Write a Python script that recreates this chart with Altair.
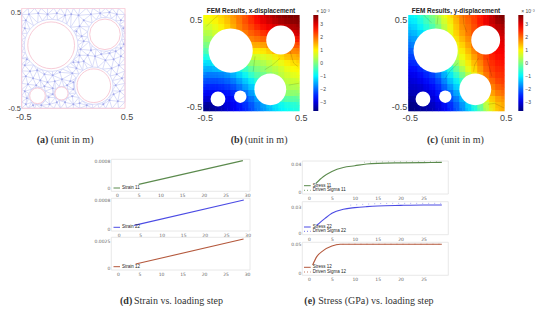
import math
import altair as alt
import pandas as pd

# ---------- data ----------
CIRCLES = [(-0.215, 0.13, 0.26), (0.306, 0.24, 0.17), (0.198, -0.274, 0.187),
           (-0.347, -0.375, 0.087), (-0.115, -0.351, 0.073)]

MESH_NODES = [(-.43,.44),(-.34,.45),(-.25,.44),(-.16,.45),(-.08,.43),(-.02,.44),(.05,.43),(.1,.38),(.17,.44),(.26,.45),
 (.35,.46),(.42,.44),(.46,.38),(-.46,.38),(-.47,.3),(-.46,.23),(-.485,.15),(-.48,.07),(-.45,-.01),(-.47,-.07),
 (.06,.32),(.03,.27),(.08,.22),(.05,.15),(.07,.09),(.1,.17),(.17,.08),(.14,.03),(.06,.03),(.0,-.04),(.05,-.04),
 (.485,.3),(.48,.22),(.49,.14),(.46,.1),(.41,.07),(.35,.05),(.27,.04),(.21,.02),(.1,-.03),(.31,-.02),(.39,-.01),
 (.46,.02),(.44,-.07),(.37,-.1),(.36,-.16),(.42,-.16),(.47,-.2),(.41,-.27),(.45,-.33),(.39,-.36),(.43,-.43),(.35,-.42),
 (.29,-.46),(.21,-.47),(.13,-.47),(.06,-.45),(.0,-.46),(.03,-.38),(-.01,-.38),(.0,-.31),(.0,-.24),(-.03,-.23),(-.01,-.15),
 (.03,-.1),(-.07,-.1),(-.13,-.14),(-.2,-.17),(-.28,-.16),(-.35,-.12),(-.42,-.13),(-.46,-.18),(-.39,-.2),(-.32,-.22),
 (-.25,-.24),(-.18,-.23),(-.11,-.21),(-.06,-.27),(-.13,-.27),(-.2,-.3),(-.28,-.28),(-.36,-.27),(-.44,-.26),(-.47,-.33),
 (-.45,-.4),(-.46,-.46),(-.39,-.47),(-.31,-.47),(-.23,-.46),(-.24,-.39),(-.2,-.36),(-.16,-.44),(-.08,-.44),(-.05,-.39)]

FIELD_X = [
 [.9,1.0,1.1,1.3,1.5,1.8,2.0,2.3,2.6,2.9,3.1,3.3,3.5,3.6,3.7,3.7],
 [.7,.8,1.0,1.2,1.4,1.7,2.0,2.3,2.5,2.8,3.0,3.1,3.3,3.4,3.5,3.6],
 [.5,.6,.8,1,1.3,1.6,1.9,2.1,2.3,2.5,2.7,2.8,3.0,3.1,3.2,3.3],
 [.3,.4,.6,.8,1.1,1.4,1.7,1.9,2.1,2.2,2.4,2.5,2.7,2.8,2.9,3.0],
 [.1,.2,.4,.6,.9,1.2,1.5,1.7,1.8,1.9,2.0,2.2,2.4,2.5,2.5,2.5],
 [-.2,0,.2,.4,.7,1,1.3,1.4,1.4,1.4,1.5,1.8,2.0,2.1,2.1,2.0],
 [-.5,-.3,0,.2,.5,.8,1,1.0,.9,.9,1.0,1.2,1.4,1.6,1.7,1.7],
 [-.9,-.7,-.5,-.3,0,.3,.5,.4,.4,.5,.6,.7,.9,1.1,1.3,1.4],
 [-1.3,-1.2,-1.0,-.9,-.7,-.5,-.3,-.1,.1,.2,.3,.5,.6,.8,1.0,1.1],
 [-1.6,-1.6,-1.5,-1.5,-1.3,-1.1,-.8,-.5,-.2,0,.1,.3,.4,.6,.8,.9],
 [-2.0,-2.0,-2.0,-1.9,-1.8,-1.5,-1.2,-.9,-.5,-.3,-.1,.1,.3,.5,.6,.7],
 [-2.3,-2.3,-2.3,-2.2,-2.1,-1.9,-1.6,-1.3,-1.0,-.6,-.3,-.1,.1,.3,.5,.5],
 [-2.6,-2.6,-2.6,-2.5,-2.4,-2.2,-1.9,-1.6,-1.3,-.9,-.6,-.3,0,.2,.3,.3],
 [-2.9,-2.9,-2.9,-2.8,-2.7,-2.5,-2.2,-1.9,-1.6,-1.2,-.9,-.6,-.3,0,.1,0],
 [-3.2,-3.2,-3.2,-3.0,-2.9,-2.7,-2.4,-2.2,-1.9,-1.6,-1.3,-1,-.7,-.5,-.4,-.4],
 [-3.6,-3.6,-3.4,-3.2,-3.0,-2.8,-2.6,-2.4,-2.1,-1.8,-1.6,-1.3,-1.1,-.9,-.8,-.7],
]
FIELD_Y = [
 [-1.0,-.8,-.5,-.2,.1,.5,.9,1.3,1.7,2.0,2.2,2.4,2.7,3.0,3.4,3.7],
 [-1.2,-1.0,-.7,-.4,-.1,.3,.7,1.1,1.6,1.9,2.1,2.4,2.7,3.0,3.3,3.5],
 [-1.4,-1.2,-.9,-.6,-.3,.1,.6,1.0,1.5,1.8,2.0,2.3,2.6,2.9,3.1,3.3],
 [-1.6,-1.4,-1.2,-.9,-.5,-.1,.4,.9,1.4,1.7,2.0,2.3,2.6,2.8,3.0,3.1],
 [-1.8,-1.6,-1.4,-1.1,-.8,-.3,.2,.8,1.2,1.5,1.8,2.2,2.5,2.7,2.9,3.0],
 [-2.0,-1.8,-1.6,-1.3,-1,-.5,0,.6,1.0,1.3,1.7,2.1,2.4,2.6,2.8,2.9],
 [-2.2,-2.1,-1.9,-1.6,-1.2,-.8,-.2,.4,.8,1.1,1.5,1.9,2.2,2.5,2.7,2.8],
 [-2.4,-2.3,-2.1,-1.8,-1.5,-1,-.5,.1,.6,.9,1.3,1.7,2.1,2.4,2.6,2.7],
 [-2.6,-2.5,-2.3,-2.1,-1.8,-1.3,-.8,-.3,.3,.7,1.1,1.5,1.9,2.3,2.5,2.6],
 [-2.8,-2.7,-2.5,-2.3,-2.0,-1.6,-1.1,-.6,-.1,.4,.9,1.3,1.8,2.2,2.4,2.5],
 [-3.0,-2.9,-2.7,-2.5,-2.3,-1.9,-1.4,-1,-.5,0,.5,1.1,1.6,2.0,2.3,2.4],
 [-3.1,-3.0,-2.9,-2.7,-2.5,-2.2,-1.7,-1.3,-.9,-.4,.1,.8,1.4,1.8,2.1,2.3],
 [-3.2,-3.2,-3.1,-2.9,-2.7,-2.4,-2.0,-1.6,-1.2,-.8,-.2,.5,1.2,1.6,1.9,2.1],
 [-3.4,-3.3,-3.2,-3.1,-2.9,-2.6,-2.3,-1.9,-1.5,-1.1,-.6,.1,.8,1.3,1.7,1.9],
 [-3.6,-3.5,-3.4,-3.2,-3.0,-2.8,-2.5,-2.2,-1.8,-1.3,-.9,-.4,.3,.9,1.4,1.6],
 [-3.7,-3.6,-3.5,-3.4,-3.2,-3.0,-2.7,-2.4,-2.0,-1.6,-1.1,-.6,0,.6,1.2,1.5],
]
CONTOURS_X = [
 [(-.34,.5),(-.4,.45),(-.47,.38)],
 [(.14,-.07),(.22,-.02),(.3,.05)],
 [(.4,.14),(.44,0),(.49,-.04)],
 [(.39,-.23),(.5,-.21)],
 [(.04,.07),(.03,0),(.02,-.09)],
]
CONTOURS_Y = [
 [(-.34,.5),(-.26,.42)],
 [(-.19,.49),(-.2,.4)],
 [(.07,.5),(.08,.4),(.11,.32)],
 [(.23,.05),(.19,-.02),(.18,-.09)],
 [(.32,.05),(.37,-.14)],
 [(.02,0),(-.07,-.09),(-.12,-.17)],
 [(.33,-.43),(.4,-.42),(.5,-.47)],
]
JET = ["#00007f","#0000ff","#007fff","#00ffff","#7fff7f","#ffff00","#ff7f00","#ff0000","#7f0000"]

STRAIN_STEPS = [[5, 29], [3.6, 29.1], [4.1, 29.2]]
STRAIN_VALUES = [[.000127, .00082], [.000102, .00081], [.00038, .00275]]
STRESS_STEPS = [
 [1.5, 3.1, 5, 7.5, 10, 12.6, 15, 20, 25, 29],
 [1.7, 3.5, 5, 7.5, 10, 12.6, 15, 20, 25, 29],
 [.8, 1.7, 3.1, 5, 6.8, 10, 15, 20, 25, 29],
]
STRESS_VALUES = [
 [.0127, .0224, .0302, .036, .0385, .041, .042, .0427, .043, .0434],
 [.009, .0171, .023, .0277, .0296, .0308, .0316, .0323, .0327, .0327],
 [.0144, .0287, .0391, .0471, .05, .05, .05, .05, .05, .05],
]
DRIVEN_STEPS = [[12, 15, 18, 21, 24, 27, 29], [9, 12, 15, 18, 21, 24, 27, 29], [6, 9, 12, 15, 18, 21, 24, 27, 29]]
DRIVEN_VALUES = [
 [.0435, .0440, .0443, .0443, .0444, .0444, .0444],
 [.0325, .0335, .0344, .0346, .0346, .0346, .0346, .0346],
 [.0497, .0503, .0503, .0503, .0503, .0503, .0503, .0503, .0503],
]

W, H = 530, 298
SANS = "Liberation Sans"
SERIF = "Liberation Serif"


def one():
    return alt.Data(values=[{"a": 1}])


def text(s, px, py, size, color="#222222", font=SANS, align="center", weight="normal", opacity=1.0):
    return alt.Chart(one()).mark_text(text=s, font=font, fontSize=size, color=color, align=align,
                                      baseline="middle", fontWeight=weight, opacity=opacity).encode(
        x=alt.value(px - 8), y=alt.value(py - 8))


def rule(x0, x1, py, color, width=1.0, dash=None):
    kw = {"strokeDash": dash} if dash else {}
    return alt.Chart(one()).mark_rule(color=color, strokeWidth=width, **kw).encode(
        x=alt.value(x0 - 8), x2=alt.value(x1 - 8), y=alt.value(py - 8))


def scales(L, R, T, B):
    return (alt.Scale(domain=[-.5, .5], range=[L - 8, R - 8], nice=False, zero=False),
            alt.Scale(domain=[-.5, .5], range=[B - 8, T - 8], nice=False, zero=False))


def unit_axes(L, B, mesh=False):
    base = dict(values=[-.5, .5], domain=False, ticks=False, grid=False, title=None, labelFont=SANS,
                labelColor="#444444", labelExpr="datum.value", labelOverlap=False, zindex=1)
    xa = alt.Axis(orient="bottom", offset=-(H - (B - 8)), labelPadding=4.5 if mesh else 2.5, labelFontSize=9,
                  labelFlush=False, labelOffset=1.5, **base)
    if mesh:
        # the page margin leaves little room left of this panel, so its labels are a little smaller
        ya = alt.Axis(orient="left", offset=-(L - 8), labelPadding=1.2, labelFontSize=7.4,
                      labelBaseline={"condition": {"test": "datum.value > 0", "value": "top"}, "value": "middle"},
                      **base)
    else:
        ya = alt.Axis(orient="left", offset=-(L - 8), labelPadding=1.5, labelFontSize=9,
                      labelFlush=True, **base)
    return xa, ya


# ---------- panel (a): mesh ----------
def delaunay(pts):
    sup = [(-10, -10), (10, -10), (0, 10)]
    P = list(pts) + sup
    n = len(pts)
    tris = [(n, n + 1, n + 2)]

    def cc(t):
        (ax, ay), (bx, by), (cx, cy) = P[t[0]], P[t[1]], P[t[2]]
        d = 2 * (ax * (by - cy) + bx * (cy - ay) + cx * (ay - by))
        if abs(d) < 1e-12:
            return 0, 0, 1e12
        ux = ((ax**2 + ay**2) * (by - cy) + (bx**2 + by**2) * (cy - ay) + (cx**2 + cy**2) * (ay - by)) / d
        uy = ((ax**2 + ay**2) * (cx - bx) + (bx**2 + by**2) * (ax - cx) + (cx**2 + cy**2) * (bx - ax)) / d
        return ux, uy, (ax - ux)**2 + (ay - uy)**2

    for i in range(n):
        px, py = P[i]
        bad, keep = [], []
        for t in tris:
            ux, uy, r2 = cc(t)
            (bad if (px - ux)**2 + (py - uy)**2 < r2 else keep).append(t)
        count = {}
        for t in bad:
            for e in ((t[0], t[1]), (t[1], t[2]), (t[2], t[0])):
                k = tuple(sorted(e))
                count[k] = count.get(k, 0) + 1
        tris = keep + [(a, b, i) for (a, b), c in count.items() if c == 1]
    return [t for t in tris if max(t) < n]


def in_circle(x, y, pad=0.0):
    return any((x - cx)**2 + (y - cy)**2 < (r + pad)**2 for cx, cy, r in CIRCLES)


interior = [p for p in MESH_NODES if not in_circle(p[0], p[1], 0.012)]
nodes = list(interior)
STEP = 0.062
m = round(1 / STEP)
for i in range(m):
    s = -.5 + i / m
    nodes += [(s, -.5), (.5, -s), (-s, .5), (-.5, s)]
for cx, cy, r in CIRCLES:
    k = max(10, round(2 * math.pi * r / 0.05))
    nodes += [(cx + r * math.cos(2 * math.pi * j / k), cy + r * math.sin(2 * math.pi * j / k)) for j in range(k)]

edges = set()
for t in delaunay(nodes):
    gx = sum(nodes[i][0] for i in t) / 3
    gy = sum(nodes[i][1] for i in t) / 3
    if in_circle(gx, gy):
        continue
    for a, b in ((t[0], t[1]), (t[1], t[2]), (t[0], t[2])):
        edges.add(tuple(sorted((a, b))))
edge_df = pd.DataFrame([{"x": nodes[a][0], "y": nodes[a][1], "x2": nodes[b][0], "y2": nodes[b][1]} for a, b in edges])
node_df = pd.DataFrame(interior, columns=["x", "y"])
circ_df = pd.DataFrame(CIRCLES, columns=["x", "y", "r"])
A = (21.7, 125, 8.3, 108.3)
xs, ys = scales(*A)
xa, ya = unit_axes(21.7, 108.3, mesh=True)
circ_df["s"] = [math.pi * (r * 101.5)**2 for r in circ_df["r"]]
PINK = "#f8ccd8"
panel_a = alt.layer(
    alt.Chart(edge_df).mark_rule(color="#ccd0f6", strokeWidth=0.7).encode(
        x=alt.X("x:Q", scale=xs, axis=xa), y=alt.Y("y:Q", scale=ys, axis=ya), x2="x2:Q", y2="y2:Q"),
    alt.Chart(node_df).mark_circle(color="#a3a9ea", size=4, opacity=1).encode(
        x=alt.X("x:Q", scale=xs, axis=xa), y=alt.Y("y:Q", scale=ys, axis=ya)),
    alt.Chart(circ_df).mark_point(filled=False, color=PINK, strokeWidth=1, opacity=1).encode(
        x=alt.X("x:Q", scale=xs, axis=xa), y=alt.Y("y:Q", scale=ys, axis=ya),
        size=alt.Size("s:Q", scale=None, legend=None)),
    alt.Chart(one()).mark_rect(fill=None, stroke=PINK, strokeWidth=1).encode(
        x=alt.value(21.7 - 8), x2=alt.value(125 - 8), y=alt.value(8.3 - 8), y2=alt.value(108.3 - 8)),
)


# ---------- panels (b), (c): displacement fields ----------
def field_panel(rows, contours, L, T, cb_x):
    R, B = L + 96, T + 96
    xs, ys = scales(L, R, T, B)
    xa, ya = unit_axes(L, B)
    n = len(rows)
    recs, soft = [], []
    clamp = lambda v: max(-.5, min(.5, v))
    for j, row in enumerate(rows):
        for i, v in enumerate(row):
            recs.append({"x": -.5 + i / n, "x2": -.5 + (i + 1) / n + .003,
                         "y": .5 - j / n, "y2": .5 - (j + 1) / n - .003, "v": v})
            # the same cell drawn wider and translucent softens the block edges
            soft.append({"x": clamp(-.5 + (i - .5) / n), "x2": clamp(-.5 + (i + 1.5) / n),
                         "y": clamp(.5 - (j - .5) / n), "y2": clamp(.5 - (j + 1.5) / n), "v": v})
    cscale = alt.Scale(domain=[-3.7, 3.7], range=JET, interpolate="rgb", nice=False, zero=False)
    color = alt.Color("v:Q", scale=cscale,
                      legend=alt.Legend(orient="none", legendX=cb_x - 8, legendY=T - 8, title=None,
                                        direction="vertical", gradientLength=96, gradientThickness=5,
                                        gradientOpacity=1,
                                        values=[-3, -2, -1, 0, 1, 2, 3], labelFont=SANS, labelFontSize=5,
                                        labelColor="#444444", labelOffset=2, padding=0, tickCount=7))
    cdf = pd.DataFrame(CIRCLES, columns=["x", "y", "r"])
    cdf["s"] = [math.pi * (r * 96)**2 for r in cdf["r"]]
    lines = pd.DataFrame([{"id": k, "o": o, "x": p[0], "y": p[1]}
                          for k, line in enumerate(contours) for o, p in enumerate(line)])
    return alt.layer(
        alt.Chart(pd.DataFrame(recs)).mark_rect(strokeWidth=0).encode(
            x=alt.X("x:Q", scale=xs, axis=xa), x2="x2:Q", y=alt.Y("y:Q", scale=ys, axis=ya), y2="y2:Q", color=color),
        alt.Chart(pd.DataFrame(soft)).mark_rect(strokeWidth=0, opacity=.42).encode(
            x=alt.X("x:Q", scale=xs, axis=xa), x2="x2:Q", y=alt.Y("y:Q", scale=ys, axis=ya), y2="y2:Q",
            color=color),
        alt.Chart(lines).mark_line(color="#000000", strokeWidth=0.5, opacity=.25).encode(
            x=alt.X("x:Q", scale=xs, axis=xa), y=alt.Y("y:Q", scale=ys, axis=ya),
            detail="id:N", order="o:Q"),
        alt.Chart(cdf).mark_point(filled=True, color="white", opacity=1, strokeWidth=0).encode(
            x=alt.X("x:Q", scale=xs, axis=xa), y=alt.Y("y:Q", scale=ys, axis=ya),
            size=alt.Size("s:Q", scale=None, legend=None)),
    )


panel_b = field_panel(FIELD_X, CONTOURS_X, 203.3, 15, 313.3)
panel_c = field_panel(FIELD_Y, CONTOURS_Y, 408.3, 15, 518.3)


# ---------- panels (d), (e): curves ----------
def line_panel(frame, x0px, x5px, y0px, ytop, ytop_px, steps, vals, color, driven=None, xticks=None, interp="linear"):
    L, R, T, B = frame
    px5 = x5px - x0px
    xs = alt.Scale(domain=[0, 30], range=[x0px - 8, x0px + px5 * 6 - 8], nice=False, zero=False)
    ys = alt.Scale(domain=[0, ytop], range=[y0px - 8, ytop_px - 8], nice=False, zero=False)
    xa = alt.Axis(orient="bottom", values=xticks, offset=-(H - (B - 8)), domain=False, ticks=False, grid=False, title=None,
                  labelFont="DejaVu Sans", labelFontSize=4.5, labelColor="#666666", labelPadding=1.5,
                  labelOverlap=False, labelFlush=False, labelExpr="datum.value")
    ya = alt.Axis(orient="left", values=[0, ytop], offset=-(L - 8), domain=False, ticks=False, grid=False, title=None,
                  labelFont="DejaVu Sans", labelFontSize=4.5, labelColor="#666666", labelPadding=1.5,
                  labelOverlap=False, labelExpr="datum.value")
    df = pd.DataFrame({"x": steps, "y": vals})
    layers = [
        alt.Chart(one()).mark_rect(fill=None, stroke="#e2e2e2", strokeWidth=0.8).encode(
            x=alt.value(L - 8), x2=alt.value(R - 8), y=alt.value(T - 8), y2=alt.value(B - 8)),
        alt.Chart(df).mark_line(color=color, strokeWidth=1.1, interpolate=interp).encode(
            x=alt.X("x:Q", scale=xs, axis=xa), y=alt.Y("y:Q", scale=ys, axis=ya)),
    ]
    if driven:
        ddf = pd.DataFrame({"x": driven[0], "y": driven[1]})
        layers.append(alt.Chart(ddf).mark_line(color=color, strokeWidth=0.8, strokeDash=[1, 5], opacity=0.55).encode(
            x=alt.X("x:Q", scale=xs, axis=xa), y=alt.Y("y:Q", scale=ys, axis=ya)))
    return alt.layer(*layers)


GREEN, BLUE, RED = "#5b8a4d", "#4b4be4", "#b4583c"
DT = [0, 5, 10, 15, 20, 25, 30]
ET = [0, 5, 10, 15, 20, 25]
curves = [
    line_panel((111.3, 250, 159.3, 191.3), 117, 138.7, 188.7, .0008, 161.3, STRAIN_STEPS[0], STRAIN_VALUES[0], GREEN, xticks=DT),
    line_panel((111.3, 250, 198.3, 231), 118.7, 140.2, 229, .0008, 200.3, STRAIN_STEPS[1], STRAIN_VALUES[1], BLUE, xticks=DT),
    line_panel((111.3, 250, 237.3, 270), 118, 139.5, 268, .0025, 241.7, STRAIN_STEPS[2], STRAIN_VALUES[2], RED, xticks=DT),
    line_panel((302.3, 448.3, 161, 194), 309, 331.9, 192, .04, 164.7, STRESS_STEPS[0], STRESS_VALUES[0], GREEN,
               (DRIVEN_STEPS[0], DRIVEN_VALUES[0]), xticks=ET, interp="monotone"),
    line_panel((302.3, 448.3, 201.7, 234.7), 309, 331.9, 233, .03, 207.3, STRESS_STEPS[1], STRESS_VALUES[1], BLUE,
               (DRIVEN_STEPS[1], DRIVEN_VALUES[1]), xticks=ET, interp="monotone"),
    line_panel((302.3, 448.3, 242.3, 275.3), 309, 331.9, 273.3, .05, 244.3, STRESS_STEPS[2], STRESS_VALUES[2], RED,
               (DRIVEN_STEPS[2], DRIVEN_VALUES[2]), xticks=ET, interp="monotone"),
]

# ---------- free text ----------
TS = 4.5
extras = [
    text("FEM Results, x-displacement", 251, 10.8, 6.4, weight="bold"),
    text("FEM Results, y-displacement", 456, 10.8, 6.4, weight="bold"),
    text("× 10⁻³", 323, 11, 5, color="#444444"),
    text("× 10⁻³", 528, 11, 5, color="#444444"),
]
for s, x, y, c in [("Strain 11", 122, 188, GREEN), ("Strain 22", 122, 227.3, BLUE), ("Strain 12", 122, 266.7, RED)]:
    extras += [rule(113.5, 120, y, c, 1), text(s, x, y, TS, align="left")]
for n, y1, y2, c in [("11", 185.7, 190.3, GREEN), ("22", 227, 231.3, BLUE), ("12", 267.3, 272, RED)]:
    extras += [rule(304, 310.7, y1, c, 1), text("Stress " + n, 312.7, y1, TS, align="left"),
               rule(304, 310.7, y2, c, 0.8, [1, 2]), text("Driven Sigma " + n, 312.7, y2, TS, align="left")]
for bold, rest, x, y in [("(a)", "(unit in m)", 36.7, 140), ("(b)", "(unit in m)", 230.7, 140), ("(c)", "(unit in m)", 427, 140),
                         ("(d)", "Strain vs. loading step", 120, 301), ("(e)", "Stress (GPa) vs. loading step", 304.3, 301)]:
    extras += [text(bold, x, y, 10, color="#333333", font=SERIF, align="left", weight="bold"),
               text(rest, x + 14, y, 10, color="#333333", font=SERIF, align="left")]

chart = alt.layer(panel_a, panel_b, panel_c, *curves, *extras).resolve_scale(
    x="independent", y="independent", color="independent", size="independent"
).resolve_axis(x="independent", y="independent").properties(
    width=W, height=H, padding=0, autosize=alt.AutoSizeParams(type="none")
).configure_view(stroke=None)

chart.save("out.html", embed_options={"renderer": "svg", "actions": False})
